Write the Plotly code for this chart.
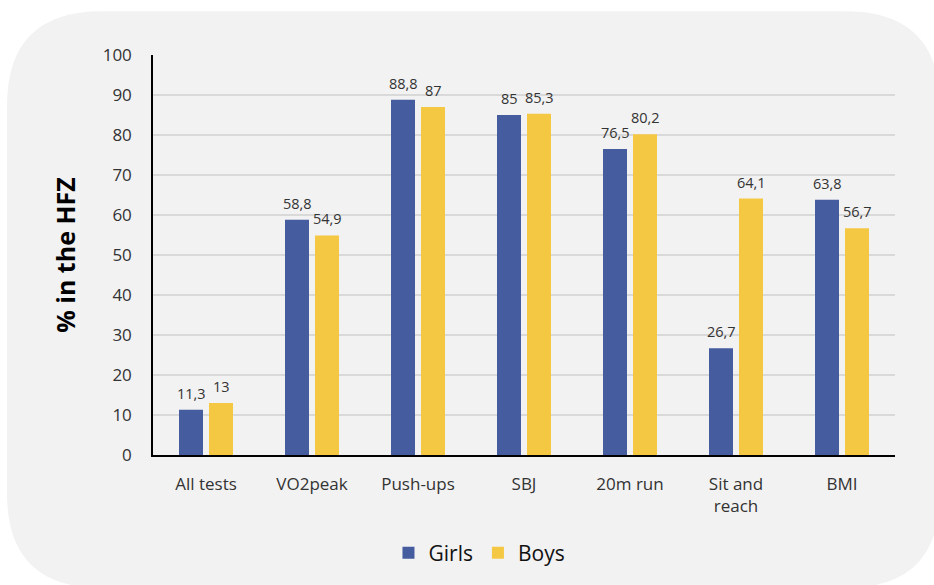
import plotly.graph_objects as go

categories = ["All tests", "VO2peak", "Push-ups", "SBJ", "20m run", "Sit and<br>reach", "BMI"]
girls = [11.3, 58.8, 88.8, 85.0, 76.5, 26.7, 63.8]
boys = [13.0, 54.9, 87.0, 85.3, 80.2, 64.1, 56.7]
girls_labels = ["11,3", "58,8", "88,8", "85", "76,5", "26,7", "63,8"]
boys_labels = ["13", "54,9", "87", "85,3", "80,2", "64,1", "56,7"]

W, H = 934, 585
L, R, T, B = 153, 895, 55, 458
FONT = "Open Sans"
GIRL_C = "#455D9F"
BOY_C = "#F5C844"

fig = go.Figure()
fig.add_trace(go.Bar(name="Girls", x=categories, y=girls, marker_color=GIRL_C, marker_line_width=0))
fig.add_trace(go.Bar(name="Boys", x=categories, y=boys, marker_color=BOY_C, marker_line_width=0))

annotations = []
for c, v, t in zip(categories, girls, girls_labels):
    annotations.append(dict(x=c, y=v, xref="x", yref="y", text=t, showarrow=False,
                            xshift=-15, yshift=5, yanchor="bottom",
                            font=dict(family=FONT, size=14.5, color="#333333")))
for c, v, t in zip(categories, boys, boys_labels):
    annotations.append(dict(x=c, y=v, xref="x", yref="y", text=t, showarrow=False,
                            xshift=15, yshift=5, yanchor="bottom",
                            font=dict(family=FONT, size=14.5, color="#333333")))

# rounded background panel (pixel coords -> paper coords)
pw, ph = R - L, B - T
def px(x):
    return (x - L) / pw
def py(y):
    return (B - y) / ph
x0, x1, y0, y1, r = 7, 940, 11, 592, 95
pts = [
    ("M", [(x0 + r, y0)]),
    ("L", [(x1 - r, y0)]),
    ("Q", [(x1, y0), (x1, y0 + r)]),
    ("L", [(x1, y1 - r)]),
    ("Q", [(x1, y1), (x1 - r, y1)]),
    ("L", [(x0 + r, y1)]),
    ("Q", [(x0, y1), (x0, y1 - r)]),
    ("L", [(x0, y0 + r)]),
    ("Q", [(x0, y0), (x0 + r, y0)]),
]
path = ""
for cmd, ps in pts:
    path += cmd + " " + " ".join(f"{px(a):.5f},{py(b):.5f}" for a, b in ps) + " "
path += "Z"

fig.update_layout(
    width=W, height=H,
    margin=dict(l=L, r=W - R, t=T, b=H - B),
    paper_bgcolor="white",
    plot_bgcolor="rgba(0,0,0,0)",
    barmode="group",
    bargap=0.434,
    bargroupgap=0.2,
    font=dict(family=FONT, color="#333333"),
    showlegend=True,
    legend=dict(orientation="h", x=0.44, xanchor="center", y=-0.245, yanchor="middle",
                font=dict(family=FONT, size=21, color="#111111"),
                bgcolor="rgba(0,0,0,0)", itemwidth=30, traceorder="normal"),
    shapes=[dict(type="path", path=path, xref="paper", yref="paper",
                 fillcolor="#F2F2F2", line=dict(width=0), layer="below")],
    annotations=annotations,
)
fig.update_yaxes(range=[0, 100], dtick=10, showgrid=True, gridcolor="#D9D9D9", gridwidth=1.5,
                 showline=True, linecolor="black", linewidth=1.5, zeroline=False,
                 ticks="outside", ticklen=16, tickcolor="rgba(0,0,0,0)",
                 tickfont=dict(family=FONT, size=17, color="#333333"),
                 title=dict(text="<b>% in the HFZ</b>", font=dict(family=FONT, size=25, color="black"), standoff=20))
fig.update_xaxes(showline=True, linecolor="black", linewidth=1.5, showgrid=False,
                 ticks="outside", ticklen=13, tickcolor="rgba(0,0,0,0)",
                 tickfont=dict(family=FONT, size=17, color="#333333"))

fig.write_html("out.html")
